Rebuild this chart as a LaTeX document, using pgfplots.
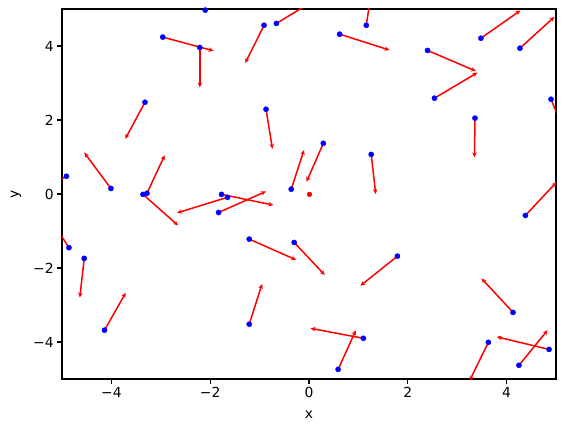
\documentclass[border=0pt]{standalone}
\usepackage{fontspec}
\setmainfont{DejaVu Sans}
\usepackage{pgfplots}
\pgfplotsset{compat=1.18}
\usetikzlibrary{arrows.meta}

% points and arrow vectors
\pgfplotstableread{
x y u v
-2.10 4.97 0.00 1.10
-2.96 4.24 1.03 -0.37
-2.21 3.96 0.00 -1.08
-3.32 2.48 -0.40 -0.99
-0.91 4.56 -0.38 -1.02
-0.66 4.61 0.85 0.69
0.62 4.32 1.01 -0.43
1.16 4.56 0.12 1.07
-0.87 2.29 0.13 -1.07
3.48 4.21 0.80 0.75
4.27 3.94 0.70 0.85
2.40 3.88 0.98 -0.56
2.54 2.59 0.87 0.69
4.90 2.56 0.33 -1.08
3.36 2.05 -0.01 -1.06
-4.91 0.48 -0.85 -0.68
-4.01 0.15 -0.54 0.97
-3.36 -0.01 0.71 -0.84
-3.28 0.02 0.36 1.03
-1.77 -0.01 1.05 -0.29
-1.65 -0.09 -1.02 -0.42
-1.83 -0.50 0.96 0.57
-4.86 -1.45 -0.47 0.99
-0.36 0.13 0.26 1.06
0.29 1.37 -0.34 -1.04
1.26 1.07 0.09 -1.07
-1.21 -1.22 0.95 -0.56
-0.30 -1.31 0.62 -0.88
4.38 -0.58 0.63 0.90
1.79 -1.68 -0.75 -0.80
-1.21 -3.52 0.26 1.09
1.10 -3.90 -1.07 0.27
0.59 -4.74 0.36 1.06
4.13 -3.20 -0.64 0.92
3.63 -4.01 -0.38 -1.04
4.86 -4.20 -1.06 0.34
4.25 -4.63 0.58 0.95
-4.55 -1.74 -0.09 -1.06
-4.14 -3.68 0.43 1.01
}\pts

\begin{document}
\begin{tikzpicture}
\begin{axis}[
  scale only axis, width=494bp, height=370bp,
  xmin=-5, xmax=5, ymin=-5, ymax=5,
  xtick={-4,-2,0,2,4}, xticklabels={−4,−2,0,2,4},
  ytick={-4,-2,0,2,4}, yticklabels={−4,−2,0,2,4},
  tick align=outside, major tick length=4.9bp,
  xtick pos=bottom, ytick pos=left,
  axis line style={line width=1.1bp},
  every tick/.style={black, line width=1.1bp},
  tick label style={font=\fontsize{13.9}{16}\selectfont},
  label style={font=\fontsize{13.9}{16}\selectfont},
  xlabel={x}, ylabel={y},
  xlabel style={yshift=-6bp},
  ylabel style={yshift=5bp},
]
\addplot[red, line width=1.5bp, -{Stealth[length=5bp,width=4.5bp]},
  quiver={u=\thisrow{u}, v=\thisrow{v}}] table[x=x, y=y] {\pts};
\addplot[only marks, mark=*, mark size=2.6bp, draw=blue, fill=blue] table[x=x, y=y] {\pts};
\addplot[only marks, mark=*, mark size=2.4bp, draw=red, fill=red] coordinates {(0.01,-0.01)};
\end{axis}
\path[use as bounding box] ([xshift=-62bp,yshift=-53bp]current axis.south west) rectangle ([xshift=9bp,yshift=9bp]current axis.north east);
\end{tikzpicture}
\end{document}
